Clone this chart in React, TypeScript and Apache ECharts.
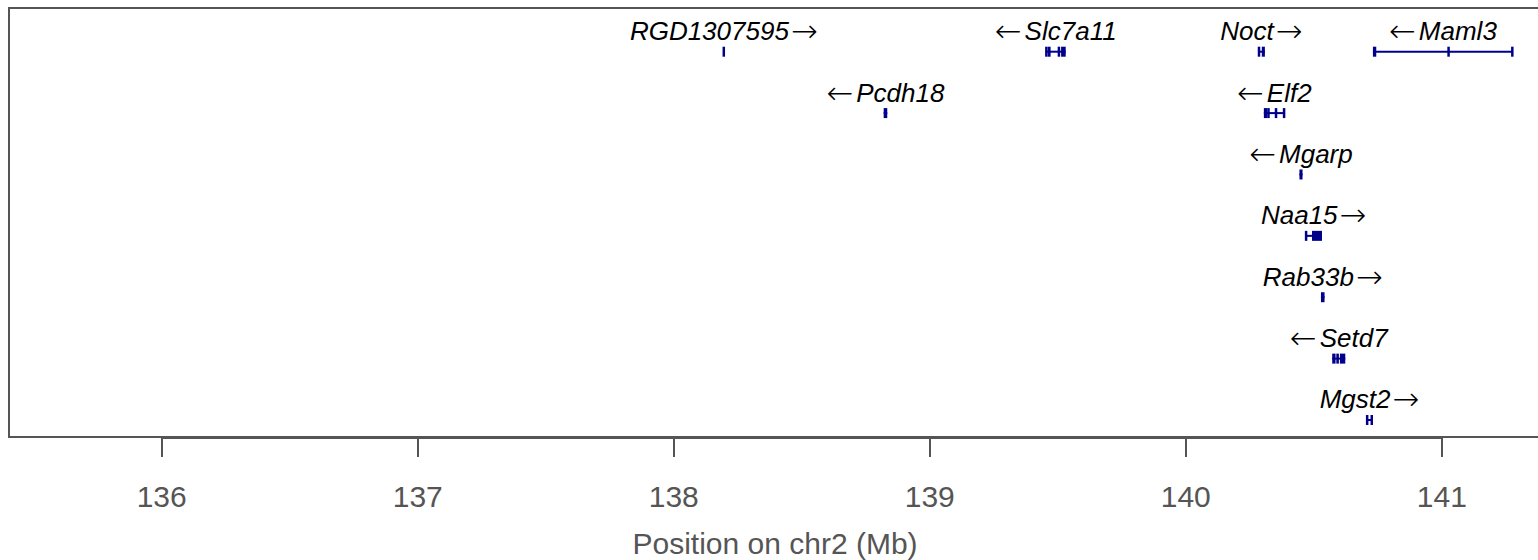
import React, { useEffect, useRef } from "react";
import * as echarts from "echarts";

const geneNames = ["RGD1307595", "Slc7a11", "Noct", "Maml3", "Pcdh18", "Elf2", "Mgarp", "Naa15", "Rab33b", "Setd7", "Mgst2"];
const geneStarts = [138.193, 139.453, 140.282, 140.731, 138.82, 140.305, 140.444, 140.467, 140.528, 140.572, 140.706];
const geneEnds = [138.198, 139.531, 140.309, 141.278, 138.834, 140.387, 140.456, 140.532, 140.542, 140.623, 140.729];
const geneStrands = [1, -1, 1, -1, -1, -1, -1, 1, 1, -1, 1];
const geneRows = [1, 1, 1, 1, 2, 2, 3, 4, 5, 6, 7];
const geneExons: number[][][] = [
  [[138.193, 138.198]],
  [[139.453, 139.458], [139.461, 139.472], [139.5, 139.509], [139.513, 139.531]],
  [[140.282, 140.29], [140.297, 140.309]],
  [[140.731, 140.744], [141.024, 141.029], [141.273, 141.278]],
  [[138.82, 138.834]],
  [[140.305, 140.318], [140.32, 140.326], [140.35, 140.355], [140.381, 140.387]],
  [[140.444, 140.456]],
  [[140.467, 140.473], [140.493, 140.532]],
  [[140.528, 140.542]],
  [[140.572, 140.585], [140.588, 140.598], [140.602, 140.623]],
  [[140.706, 140.711], [140.724, 140.729]],
];
const tickValues = [136, 137, 138, 139, 140, 141];
const xMin = 135.4035;
const xMax = 141.3875;
const yMin = 0.288;
const yMax = 7.277;

const GENE_COLOR = "#00008B";
const AXIS_COLOR = "#555555";

export default function App() {
  const ref = useRef<HTMLDivElement>(null);
  useEffect(() => {
    document.body.style.margin = "0";
    if (!ref.current) return;
    const chart = echarts.init(ref.current, undefined, { renderer: "svg" });
    const data = geneNames.map((_, i) => [geneStarts[i], geneEnds[i], geneRows[i], i]);
    chart.setOption({
      animation: false,
      grid: {
        left: 9,
        right: -3,
        top: 8,
        bottom: 123,
        outerBoundsMode: "none",
        containLabel: false,
        show: true,
        borderColor: AXIS_COLOR,
        borderWidth: 2,
        backgroundColor: "transparent",
      },
      xAxis: {
        type: "value",
        min: xMin,
        max: xMax,
        axisLine: { show: false },
        splitLine: { show: false },
        axisTick: {
          show: true,
          customValues: tickValues,
          length: 20,
          lineStyle: { color: AXIS_COLOR, width: 2 },
        },
        axisLabel: {
          customValues: tickValues,
          margin: 44,
          fontSize: 30,
          color: AXIS_COLOR,
          fontFamily: "Liberation Sans",
        },
        name: "Position on chr2 (Mb)",
        nameLocation: "middle",
        nameGap: 91,
        nameTextStyle: { fontSize: 30, color: AXIS_COLOR, fontFamily: "Liberation Sans" },
      },
      yAxis: {
        type: "value",
        min: yMin,
        max: yMax,
        inverse: true,
        show: false,
      },
      series: [
        {
          type: "custom",
          data,
          encode: { x: [0, 1], y: 2 },
          clip: false,
          renderItem: (params: any, api: any) => {
            const idx = api.value(3) as number;
            const row = api.value(2) as number;
            const s = api.coord([api.value(0), row]);
            const e = api.coord([api.value(1), row]);
            const children: any[] = [
              {
                type: "line",
                shape: { x1: s[0], y1: s[1], x2: e[0], y2: e[1] },
                style: { stroke: GENE_COLOR, lineWidth: 2 },
              },
            ];
            geneExons[idx].forEach((ex) => {
              const a = api.coord([ex[0], row]);
              const b = api.coord([ex[1], row]);
              const w = Math.max(b[0] - a[0], 2.5);
              const cx = (a[0] + b[0]) / 2;
              children.push({
                type: "rect",
                shape: { x: cx - w / 2, y: s[1] - 5, width: w, height: 10 },
                style: { fill: GENE_COLOR },
              });
            });
            const name = geneNames[idx];
            const plus = geneStrands[idx] > 0;
            const label = plus ? "{n|" + name + "}{r|\u2192}" : "{l|\u2190}{n|" + name + "}";
            const arrowStyle = {
              fontSize: 32,
              fontStyle: "normal",
              fontWeight: 200,
              fontFamily: "DejaVu Sans",
              fill: "#000000",
              verticalAlign: "middle",
            };
            children.push({
              type: "text",
              style: {
                text: label,
                x: (s[0] + e[0]) / 2,
                y: s[1] - 20.5,
                align: "center",
                verticalAlign: "middle",
                fontSize: 26,
                fontStyle: "italic",
                fontFamily: "Liberation Sans",
                fill: "#000000",
                rich: {
                  n: {
                    fontSize: 26,
                    fontStyle: "italic",
                    fontFamily: "Liberation Sans",
                    fill: "#000000",
                    verticalAlign: "middle",
                  },
                  r: { ...arrowStyle, padding: [0, 0, 0, 2] },
                  l: { ...arrowStyle, padding: [0, 3, 0, 0] },
                },
              },
            });
            return { type: "group", children };
          },
        },
      ],
    });
    const p0 = chart.convertToPixel({ xAxisIndex: 0 }, tickValues[0]) as number;
    const p1 = chart.convertToPixel({ xAxisIndex: 0 }, tickValues[tickValues.length - 1]) as number;
    const yAxisPix = 560 - 123 + 1;
    chart.setOption({
      graphic: [
        {
          type: "line",
          shape: { x1: p0, y1: yAxisPix, x2: p1, y2: yAxisPix },
          style: { stroke: AXIS_COLOR, lineWidth: 2 },
        },
      ],
    });
    return () => chart.dispose();
  }, []);
  return <div ref={ref} style={{ width: 1538, height: 560 }} />;
}
